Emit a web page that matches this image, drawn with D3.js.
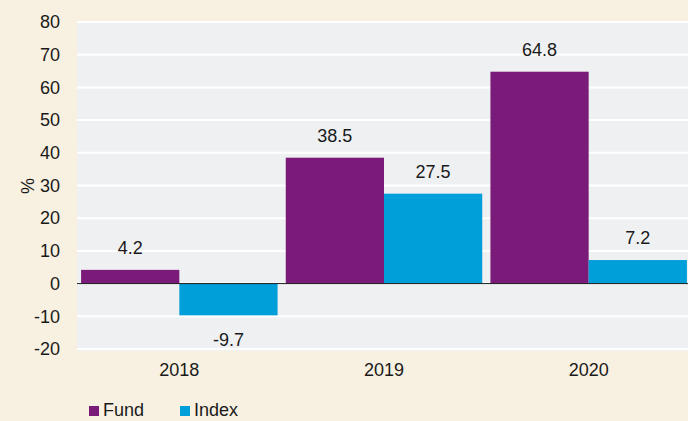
<!DOCTYPE html>
<html>
<head>
<meta charset="utf-8">
<script src="https://cdn.jsdelivr.net/npm/d3@7"></script>
<style>
  html, body { margin: 0; padding: 0; background: #f8f1e1; }
  svg { display: block; font-family: "Liberation Sans", Arial, Helvetica, sans-serif; }
</style>
</head>
<body>
<div id="chart"></div>
<script>
const years = ["2018", "2019", "2020"];
const seriesNames = ["Fund", "Index"];
const fundValues = [4.2, 38.5, 64.8];
const indexValues = [-9.7, 27.5, 7.2];
const yTicks = [-20, -10, 0, 10, 20, 30, 40, 50, 60, 70, 80];
const colors = {Fund: "#7a1b7a", Index: "#009fd9"};

const W = 688, H = 421;
const margin = {top: 22, right: -3, bottom: 70, left: 77};
const width = W - margin.left - margin.right,
      height = H - margin.top - margin.bottom;
const fs = "18px";

const svg = d3.select("#chart").append("svg")
    .attr("width", W)
    .attr("height", H);

const g = svg.append("g")
    .attr("transform", "translate(" + margin.left + "," + margin.top + ")");

const x = d3.scaleBand()
    .domain(years)
    .range([0, width])
    .paddingInner(0.04)
    .paddingOuter(0.02);

const x1 = d3.scaleBand()
    .domain(seriesNames)
    .range([0, x.bandwidth()]);

const y = d3.scaleLinear()
    .domain([-20, 80])
    .range([height - 2, 0]);

// plot background
g.append("rect")
    .attr("x", 0)
    .attr("y", -1)
    .attr("width", width)
    .attr("height", height + 1)
    .attr("fill", "#eff0f2");

// gridlines
g.selectAll(".grid")
    .data(yTicks)
    .enter()
    .append("line")
        .attr("x1", 0)
        .attr("x2", width)
        .attr("y1", d => y(d))
        .attr("y2", d => y(d))
        .attr("stroke", "#ffffff")
        .attr("stroke-width", 2);

// y axis labels
g.append("g")
    .call(d3.axisLeft(y).tickValues(yTicks).tickFormat(d => String(d)).tickSize(0).tickPadding(17))
    .call(a => a.select(".domain").remove())
    .selectAll("text")
        .attr("font-size", fs)
        .attr("fill", "#1a1a1a")
        .attr("font-family", "Liberation Sans, Arial, sans-serif");

// x axis labels
g.append("g")
    .attr("transform", "translate(0," + (height - 2) + ")")
    .call(d3.axisBottom(x).tickSize(0).tickPadding(14))
    .call(a => a.select(".domain").remove())
    .selectAll("text")
        .attr("font-size", fs)
        .attr("fill", "#1a1a1a")
        .attr("font-family", "Liberation Sans, Arial, sans-serif");

// bars
const data = [];
years.forEach((yr, i) => {
    data.push({year: yr, key: "Fund", value: fundValues[i]});
    data.push({year: yr, key: "Index", value: indexValues[i]});
});

g.selectAll(".bar")
    .data(data)
    .enter()
    .append("rect")
        .attr("x", d => x(d.year) + x1(d.key))
        .attr("y", d => y(Math.max(0, d.value)))
        .attr("width", x1.bandwidth())
        .attr("height", d => Math.abs(y(d.value) - y(0)))
        .attr("fill", d => colors[d.key]);

// zero line
g.append("line")
    .attr("x1", 0)
    .attr("x2", width)
    .attr("y1", y(0))
    .attr("y2", y(0))
    .attr("stroke", "#1a1a1a")
    .attr("stroke-width", 1);

// value labels
g.selectAll(".val")
    .data(data)
    .enter()
    .append("text")
        .attr("x", d => x(d.year) + x1(d.key) + x1.bandwidth() / 2)
        .attr("y", d => d.value >= 0 ? y(d.value) - 16 : y(d.value) + 31)
        .attr("text-anchor", "middle")
        .attr("font-size", fs)
        .attr("fill", "#1a1a1a")
        .text(d => d.value.toFixed(1));

// y label
svg.append("text")
    .attr("transform", "translate(34,186) rotate(-90)")
    .attr("text-anchor", "middle")
    .attr("font-size", fs)
    .attr("fill", "#1a1a1a")
    .text("%");

// legend
const legend = svg.append("g")
    .attr("transform", "translate(89,406)");

const items = legend.selectAll(".item")
    .data(seriesNames)
    .enter()
    .append("g")
        .attr("transform", (d, i) => "translate(" + (i * 91) + ",0)");

items.append("rect")
    .attr("width", 10)
    .attr("height", 10)
    .attr("fill", d => colors[d]);

items.append("text")
    .attr("x", 14)
    .attr("y", 10)
    .attr("font-size", fs)
    .attr("fill", "#1a1a1a")
    .text(d => d);
</script>
</body>
</html>
